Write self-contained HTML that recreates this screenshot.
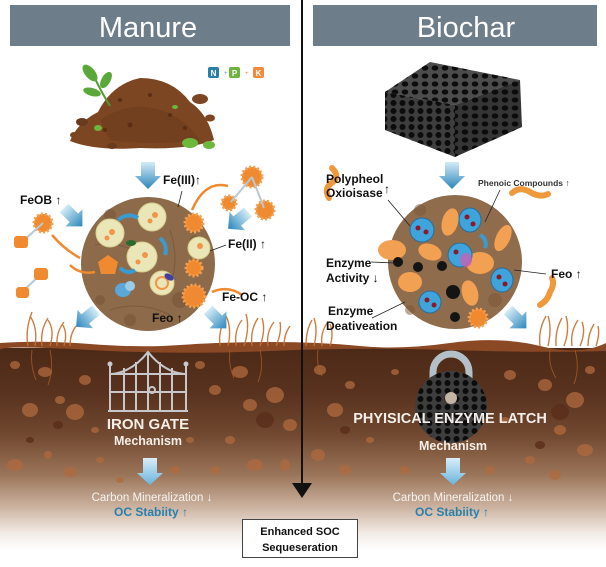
<!DOCTYPE html>
<html><head><meta charset="utf-8"><style>
html,body{margin:0;padding:0;background:#fff;}
svg{display:block;}
text{font-family:"Liberation Sans",sans-serif;}
</style></head><body>
<svg width="606" height="567" viewBox="0 0 606 567" xmlns="http://www.w3.org/2000/svg">
<defs>
<linearGradient id="soil" x1="0" y1="340" x2="0" y2="550" gradientUnits="userSpaceOnUse">
<stop offset="0" stop-color="#4a2816"/>
<stop offset="0.25" stop-color="#58321e"/>
<stop offset="0.45" stop-color="#714830"/>
<stop offset="0.64" stop-color="#9a7458"/>
<stop offset="0.8" stop-color="#cdb4a2"/>
<stop offset="0.92" stop-color="#f2ebe6"/>
<stop offset="1" stop-color="#ffffff"/>
</linearGradient>
<linearGradient id="blue" x1="0" y1="0" x2="0" y2="1">
<stop offset="0" stop-color="#d4ecf6"/>
<stop offset="1" stop-color="#2a86bc"/>
</linearGradient>
<linearGradient id="blueL" x1="0" y1="0" x2="0" y2="1">
<stop offset="0" stop-color="#d8eef8"/>
<stop offset="1" stop-color="#6ab4dc"/>
</linearGradient>
<pattern id="holes" width="10" height="8" patternUnits="userSpaceOnUse">
<ellipse cx="5" cy="4" rx="3.3" ry="2.6" fill="#0c0c0c"/>
</pattern>
<pattern id="holes2" width="9" height="8" patternUnits="userSpaceOnUse" patternTransform="translate(2,3)">
<circle cx="4.5" cy="4" r="3" fill="#0c0c0c"/>
</pattern>
</defs>

<!-- headers -->
<rect x="10" y="5" width="280" height="41" fill="#6d7d89"/>
<text x="148" y="37" font-size="29" fill="#fff" text-anchor="middle">Manure</text>
<rect x="313" y="5" width="284" height="41" fill="#6d7d89"/>
<text x="466" y="37" font-size="29" fill="#fff" text-anchor="middle">Biochar</text>

<!-- soil -->
<rect x="0" y="348" width="606" height="219" fill="url(#soil)"/>
<path d="M0,343 Q40,340 90,344 T180,345 T270,342 T360,346 T450,343 T540,346 T606,343 L606,351 Q540,353 450,350 T270,351 T90,350 T0,350Z" fill="#8a4824"/>

<!-- rocks -->
<g fill="#b06a3e" opacity="0.75">
<ellipse cx="15" cy="365" rx="5" ry="4"/><ellipse cx="45" cy="372" rx="7" ry="5"/><ellipse cx="30" cy="410" rx="8" ry="7"/>
<ellipse cx="60" cy="400" rx="5" ry="4"/><ellipse cx="85" cy="380" rx="6" ry="5"/><ellipse cx="75" cy="412" rx="9" ry="8"/>
<ellipse cx="95" cy="430" rx="4" ry="3"/><ellipse cx="15" cy="465" rx="8" ry="6"/><ellipse cx="48" cy="455" rx="4" ry="4"/>
<ellipse cx="70" cy="472" rx="7" ry="5"/><ellipse cx="100" cy="460" rx="4" ry="3"/><ellipse cx="200" cy="365" rx="5" ry="4"/>
<ellipse cx="215" cy="390" rx="6" ry="5"/><ellipse cx="240" cy="372" rx="8" ry="6"/><ellipse cx="250" cy="405" rx="7" ry="6"/>
<ellipse cx="275" cy="395" rx="9" ry="8"/><ellipse cx="290" cy="425" rx="7" ry="6"/><ellipse cx="230" cy="440" rx="5" ry="4"/>
<ellipse cx="255" cy="465" rx="8" ry="6"/><ellipse cx="285" cy="465" rx="5" ry="6"/><ellipse cx="215" cy="470" rx="5" ry="4"/>
<ellipse cx="190" cy="440" rx="4" ry="3"/><ellipse cx="175" cy="470" rx="5" ry="4"/><ellipse cx="320" cy="370" rx="6" ry="5"/>
<ellipse cx="335" cy="410" rx="8" ry="7"/><ellipse cx="350" cy="385" rx="5" ry="4"/><ellipse cx="318" cy="455" rx="7" ry="6"/>
<ellipse cx="345" cy="470" rx="6" ry="5"/><ellipse cx="370" cy="440" rx="4" ry="3"/><ellipse cx="395" cy="372" rx="4" ry="3"/>
<ellipse cx="510" cy="375" rx="6" ry="5"/><ellipse cx="545" cy="385" rx="7" ry="6"/><ellipse cx="575" cy="400" rx="9" ry="8"/>
<ellipse cx="590" cy="370" rx="5" ry="4"/><ellipse cx="560" cy="430" rx="6" ry="5"/><ellipse cx="585" cy="450" rx="8" ry="6"/>
<ellipse cx="530" cy="460" rx="5" ry="4"/><ellipse cx="555" cy="475" rx="6" ry="5"/><ellipse cx="505" cy="420" rx="4" ry="3"/>
<ellipse cx="120" cy="480" rx="4" ry="3"/><ellipse cx="405" cy="470" rx="5" ry="4"/><ellipse cx="490" cy="470" rx="5" ry="4"/>
</g>
<g fill="#5a2e1a" opacity="0.8">
<ellipse cx="58" cy="425" rx="5" ry="4"/><ellipse cx="265" cy="420" rx="9" ry="8"/><ellipse cx="248" cy="380" rx="4" ry="3"/>
<ellipse cx="560" cy="412" rx="9" ry="8"/><ellipse cx="345" cy="430" rx="5" ry="4"/><ellipse cx="30" cy="440" rx="4" ry="3"/>
<ellipse cx="540" cy="445" rx="5" ry="4"/>
</g>

<!-- grass -->
<g stroke="#c8702c" stroke-width="1.4" fill="none" opacity="0.9">
<path d="M28,346 Q25,330 32,312"/><path d="M35,346 Q38,328 30,316"/><path d="M42,346 Q40,330 48,318"/><path d="M50,346 Q55,330 48,320"/>
<path d="M57,346 Q56,332 64,322"/><path d="M64,346 Q68,332 62,324"/><path d="M70,346 Q70,334 76,326"/>
<path d="M220,346 Q218,330 226,318"/><path d="M228,346 Q232,328 226,316"/><path d="M236,346 Q234,330 242,320"/><path d="M244,346 Q250,328 246,314"/>
<path d="M252,346 Q250,330 258,318"/><path d="M260,346 Q266,330 262,318"/><path d="M268,346 Q266,332 274,322"/><path d="M276,346 Q282,332 280,322"/><path d="M284,346 Q284,334 290,326"/>
<path d="M306,346 Q306,330 312,320"/><path d="M314,346 Q318,330 314,318"/><path d="M322,346 Q320,332 328,322"/><path d="M330,346 Q334,334 330,324"/>
<path d="M540,346 Q538,330 546,316"/><path d="M548,346 Q552,328 548,316"/><path d="M556,346 Q555,330 562,318"/><path d="M564,346 Q570,330 566,316"/>
<path d="M572,346 Q570,332 578,320"/><path d="M580,346 Q586,332 582,322"/><path d="M588,346 Q588,334 594,324"/><path d="M596,346 Q600,334 598,326"/>
</g>
<g stroke="#b0622a" stroke-width="1" fill="none" opacity="0.7">
<path d="M32,350 Q30,365 36,380"/><path d="M50,350 Q54,368 48,385"/><path d="M230,350 Q228,365 234,378"/><path d="M260,350 Q264,368 258,382"/>
<path d="M550,350 Q548,365 556,378"/><path d="M575,350 Q580,368 574,384"/><path d="M318,350 Q316,365 322,376"/>
</g>

<!-- divider -->
<line x1="302" y1="0" x2="302" y2="486" stroke="#111" stroke-width="2"/>
<polygon points="292,483 312,483 302,498" fill="#111"/>

<!-- manure pile -->
<path d="M70,141 Q78,122 98,112 Q112,84 140,78 Q172,78 190,102 Q208,114 214,140 Q190,150 140,148 Q95,151 70,141Z" fill="#7d4622"/>
<path d="M100,120 Q130,100 160,110 Q185,118 200,140 Q150,146 110,140Z" fill="#6a3a1c" opacity="0.5"/>
<g fill="#5a2e14"><circle cx="120" cy="100" r="2"/><circle cx="150" cy="95" r="2"/><circle cx="170" cy="115" r="2"/><circle cx="130" cy="125" r="2.5"/><circle cx="185" cy="128" r="2"/><circle cx="105" cy="130" r="2"/></g>
<ellipse cx="200" cy="99" rx="8" ry="5" fill="#7d4622"/>
<ellipse cx="210" cy="118" rx="5" ry="3.5" fill="#7d4622"/>
<ellipse cx="82" cy="122" rx="6" ry="4" fill="#6a3a1c"/>
<ellipse cx="74" cy="135" rx="4" ry="3" fill="#7d4622"/>
<ellipse cx="112" cy="146" rx="5" ry="3" fill="#6a3a1c"/>
<ellipse cx="190" cy="143" rx="8" ry="5" fill="#6bb83c"/>
<ellipse cx="209" cy="145" rx="6" ry="4" fill="#6bb83c"/>
<ellipse cx="98" cy="128" rx="4" ry="3" fill="#6bb83c"/>
<ellipse cx="175" cy="107" rx="3" ry="2" fill="#6bb83c"/>
<path d="M110,106 Q100,90 92,72" stroke="#4f9a32" stroke-width="2" fill="none"/>
<ellipse cx="90" cy="73" rx="10" ry="5" fill="#5aa83a" transform="rotate(50 90 73)"/>
<ellipse cx="106" cy="80" rx="9" ry="4.5" fill="#5aa83a" transform="rotate(-60 106 80)"/>
<ellipse cx="92" cy="92" rx="9" ry="4" fill="#5aa83a" transform="rotate(15 92 92)"/>
<!-- NPK -->
<rect x="208" y="67" width="11" height="11" rx="2" fill="#2a7fa6"/><text x="213.5" y="76" font-size="8" font-weight="bold" fill="#fff" text-anchor="middle">N</text>
<text x="224" y="75" font-size="6" fill="#6a9ab0">+</text>
<rect x="229" y="67" width="11" height="11" rx="2" fill="#6db33f"/><text x="234.5" y="76" font-size="8" font-weight="bold" fill="#fff" text-anchor="middle">P</text>
<text x="245" y="75" font-size="6" fill="#e88a3c">+</text>
<rect x="253" y="67" width="11" height="11" rx="2" fill="#f08a3c"/><text x="258.5" y="76" font-size="8" font-weight="bold" fill="#fff" text-anchor="middle">K</text>

<!-- biochar cube -->
<polygon points="385,92 430,62 520,80 455,105" fill="#4c4c4c"/>
<polygon points="385,92 430,62 520,80 455,105" fill="url(#holes)"/>
<polygon points="385,92 455,105 455,157 385,130" fill="#3e3e3e"/>
<polygon points="385,92 455,105 455,157 385,130" fill="url(#holes2)"/>
<polygon points="455,105 520,80 522,127 455,157" fill="#353535"/>
<polygon points="455,105 520,80 522,127 455,157" fill="url(#holes)"/>

<!-- blue arrows -->
<g transform="translate(148,162)"><polygon points="-7,0 7,0 7,14 13,14 0,27 -13,14 -7,14" fill="url(#blue)"/></g>
<g transform="translate(452,162)"><polygon points="-7,0 7,0 7,14 13,14 0,27 -13,14 -7,14" fill="url(#blue)"/></g>
<g transform="translate(64,208) rotate(-45)"><polygon points="-6,0 6,0 6,14 12,14 0,26 -12,14 -6,14" fill="url(#blue)"/></g>
<g transform="translate(248,212) rotate(50)"><polygon points="-6,0 6,0 6,14 12,14 0,26 -12,14 -6,14" fill="url(#blue)"/></g>
<g transform="translate(96,310) rotate(50)"><polygon points="-6,0 6,0 6,14 12,14 0,26 -12,14 -6,14" fill="url(#blue)"/></g>
<g transform="translate(208,310) rotate(-45)"><polygon points="-6,0 6,0 6,14 12,14 0,26 -12,14 -6,14" fill="url(#blue)"/></g>
<g transform="translate(508,310) rotate(-45)"><polygon points="-6,0 6,0 6,14 12,14 0,26 -12,14 -6,14" fill="url(#blue)"/></g>

<!-- left ball -->
<circle cx="148" cy="264" r="67" fill="#8d6a4a"/>
<g fill="#7a5638" opacity="0.6"><circle cx="110" cy="215" r="6"/><circle cx="180" cy="300" r="8"/><circle cx="100" cy="300" r="5"/><circle cx="195" cy="240" r="5"/><circle cx="130" cy="320" r="6"/></g>
<g stroke="#6e4e34" stroke-width="1" fill="none" opacity="0.6"><path d="M95,245 Q120,240 140,255"/><path d="M170,230 Q180,260 170,285"/><path d="M110,310 Q140,300 170,315"/></g>
<g fill="#ebe6b8" stroke="#d6cf8e" stroke-width="1">
<circle cx="110" cy="233" r="14"/><circle cx="152" cy="217" r="14"/><circle cx="142" cy="257" r="15"/><circle cx="162" cy="283" r="12"/><circle cx="199" cy="248" r="11"/>
</g>
<g fill="#f0954a"><circle cx="112" cy="232" r="3"/><circle cx="107" cy="238" r="2.5"/><circle cx="155" cy="215" r="3"/><circle cx="150" cy="221" r="2.5"/><circle cx="145" cy="255" r="3"/><circle cx="138" cy="262" r="2.5"/><circle cx="200" cy="246" r="3"/></g>
<circle cx="162" cy="283" r="6" fill="none" stroke="#f0954a" stroke-width="2"/>
<g fill="#f08a30" stroke="#f4a050" stroke-width="3" stroke-dasharray="2 2">
<circle cx="194" cy="223" r="9"/><circle cx="194" cy="268" r="8"/><circle cx="194" cy="296" r="11"/>
</g>
<polygon points="98,262 108,255 118,262 115,274 101,274" fill="#f08a30"/>
<ellipse cx="123" cy="290" rx="8" ry="7" fill="#5aa8d8"/><ellipse cx="130" cy="286" rx="5" ry="5" fill="#9ccbe8"/>
<ellipse cx="131" cy="243" rx="5" ry="3" fill="#2a6a2a"/>
<ellipse cx="169" cy="277" rx="5" ry="3" fill="#4040a0" transform="rotate(30 169 277)"/>
<g stroke="#3b9ad0" stroke-width="4" fill="none">
<path d="M118,220 Q128,212 138,218"/><path d="M160,238 Q168,245 165,255"/><path d="M120,268 Q128,275 135,270"/>
</g>
<!-- orange externals left -->
<g fill="#f08a30" stroke="#f4a050" stroke-width="3" stroke-dasharray="2 2">
<circle cx="43" cy="223" r="9"/><circle cx="252" cy="177" r="10"/><circle cx="229" cy="203" r="7"/><circle cx="265" cy="210" r="9"/>
</g>
<g stroke="#b8c8d4" stroke-width="2"><line x1="43" y1="223" x2="22" y2="242"/><line x1="252" y1="177" x2="231" y2="202"/><line x1="252" y1="177" x2="264" y2="208"/><line x1="40" y1="275" x2="22" y2="292"/></g>
<rect x="14" y="236" width="14" height="12" rx="3" fill="#f08a30"/>
<rect x="34" y="268" width="14" height="12" rx="3" fill="#f08a30"/>
<rect x="16" y="287" width="13" height="11" rx="3" fill="#f08a30"/>
<g stroke="#f08a30" stroke-width="2.5" fill="none">
<path d="M52,235 Q65,250 80,258"/><path d="M70,265 Q80,275 95,272"/><path d="M228,186 Q205,180 192,210"/><path d="M242,295 Q228,285 212,292"/>
</g>

<!-- left labels -->
<g font-size="12" font-weight="bold" fill="#111">
<text x="163" y="184">Fe(III)↑</text>
<text x="20" y="204">FeOB ↑</text>
<text x="228" y="248">Fe(II) ↑</text>
<text x="222" y="301">Fe-OC ↑</text>
<text x="152" y="322">Feo ↑</text>
</g>
<g stroke="#222" stroke-width="0.8"><line x1="182" y1="191" x2="178" y2="207"/><line x1="226" y1="245" x2="210" y2="251"/></g>

<!-- right ball -->
<circle cx="455" cy="262" r="67" fill="#8f6c4c"/>
<g fill="#7a5638" opacity="0.5"><circle cx="420" cy="210" r="6"/><circle cx="495" cy="300" r="7"/><circle cx="410" cy="310" r="5"/></g>
<g fill="#f2a052">
<ellipse cx="392" cy="250" rx="14" ry="10"/><ellipse cx="450" cy="222" rx="8" ry="14" transform="rotate(15 450 222)"/>
<ellipse cx="430" cy="252" rx="12" ry="8" transform="rotate(20 430 252)"/><ellipse cx="503" cy="238" rx="7" ry="14" transform="rotate(25 503 238)"/>
<ellipse cx="480" cy="263" rx="14" ry="11"/><ellipse cx="410" cy="282" rx="12" ry="10"/><ellipse cx="470" cy="293" rx="8" ry="13" transform="rotate(-15 470 293)"/>
</g>
<g fill="#3fa3dc" stroke="#2a6e9a" stroke-width="1">
<ellipse cx="422" cy="230" rx="12" ry="12"/><ellipse cx="470" cy="220" rx="11" ry="12"/><ellipse cx="460" cy="255" rx="12" ry="12"/><ellipse cx="502" cy="280" rx="11" ry="12"/><ellipse cx="430" cy="302" rx="11" ry="11"/>
</g>
<ellipse cx="466" cy="260" rx="6" ry="7" fill="#c860b8" opacity="0.8"/>
<g fill="#8a1a2a"><circle cx="418" cy="228" r="2.5"/><circle cx="426" cy="232" r="2.5"/><circle cx="467" cy="217" r="2.5"/><circle cx="473" cy="224" r="2.5"/><circle cx="456" cy="252" r="2.5"/><circle cx="499" cy="277" r="2.5"/><circle cx="505" cy="284" r="2.5"/><circle cx="427" cy="300" r="2.5"/><circle cx="434" cy="305" r="2.5"/></g>
<g fill="#141414"><circle cx="398" cy="262" r="5"/><circle cx="418" cy="267" r="5"/><circle cx="442" cy="266" r="5"/><circle cx="453" cy="292" r="7"/><circle cx="455" cy="317" r="5"/></g>
<circle cx="478" cy="318" r="9" fill="#f08a30" stroke="#f4a050" stroke-width="3" stroke-dasharray="2 2"/>
<path d="M480,235 Q488,240 485,248" stroke="#3b9ad0" stroke-width="4" fill="none"/>
<!-- worms -->
<g stroke="#f0983c" stroke-width="6" stroke-linecap="round" fill="none">
<path d="M329,198 Q323,188 333,182 Q340,176 332,168"/><path d="M512,193 Q520,186 530,192 Q540,198 548,194"/><path d="M540,305 Q548,300 550,292 Q555,284 552,278"/>
</g>

<!-- right labels -->
<g font-size="12" font-weight="bold" fill="#111">
<text x="326" y="183">Polypheol</text>
<text x="326" y="197">Oxioisase</text>
<text x="384" y="193">↑</text>
<text x="326" y="267">Enzyme</text>
<text x="326" y="282">Activity ↓</text>
<text x="328" y="315">Enzyme</text>
<text x="326" y="330">Deativeation</text>
<text x="551" y="278">Feo ↑</text>
</g>
<text x="478" y="186" font-size="8.5" font-weight="bold" fill="#333">Phenoic Compounds ↑</text>
<g stroke="#222" stroke-width="0.8">
<line x1="388" y1="200" x2="410" y2="226"/><line x1="500" y1="190" x2="485" y2="222"/>
<line x1="371" y1="262" x2="395" y2="263"/><line x1="372" y1="318" x2="405" y2="302"/><line x1="546" y1="274" x2="514" y2="270"/>
</g>

<!-- iron gate -->
<g stroke="#c8c8cc" stroke-width="2" fill="none">
<path d="M112,374 Q132,372 148,352 Q164,372 184,374"/>
<line x1="110" y1="366" x2="110" y2="412"/><line x1="186" y1="366" x2="186" y2="412"/>
<line x1="110" y1="374" x2="186" y2="374"/><line x1="110" y1="392" x2="186" y2="392"/><line x1="108" y1="411" x2="188" y2="411"/>
<line x1="124" y1="368" x2="124" y2="411"/><line x1="136" y1="362" x2="136" y2="411"/><line x1="148" y1="352" x2="148" y2="411"/><line x1="160" y1="362" x2="160" y2="411"/><line x1="172" y1="368" x2="172" y2="411"/>
<circle cx="152" cy="390" r="3"/>
</g>
<circle cx="110" cy="364" r="2.5" fill="#c8c8cc"/><circle cx="186" cy="364" r="2.5" fill="#c8c8cc"/>
<text x="148" y="429" font-size="15" font-weight="bold" fill="#f4eee8" text-anchor="middle">IRON GATE</text>
<text x="148" y="445" font-size="12.5" font-weight="bold" fill="#f4eee8" text-anchor="middle">Mechanism</text>

<!-- lock -->
<path d="M433,396 L433,372 A18,18 0 0 1 469,372 L469,388" stroke="#b4c0c8" stroke-width="7" fill="none"/>
<circle cx="451" cy="407" r="36" fill="#3e3e3e"/>
<circle cx="451" cy="407" r="36" fill="url(#holes2)"/>
<circle cx="451" cy="398" r="6" fill="#c4b4a4"/>
<text x="450" y="423" font-size="14.5" font-weight="bold" fill="#f4eee8" text-anchor="middle">PHYISICAL ENZYME LATCH</text>
<text x="453" y="450" font-size="12.5" font-weight="bold" fill="#f4eee8" text-anchor="middle">Mechanism</text>

<!-- soil arrows -->
<g transform="translate(150,458)"><polygon points="-7,0 7,0 7,15 13,15 0,27 -13,15 -7,15" fill="url(#blueL)"/></g>
<g transform="translate(453,458)"><polygon points="-7,0 7,0 7,15 13,15 0,27 -13,15 -7,15" fill="url(#blueL)"/></g>

<text x="152" y="501" font-size="11.5" fill="#f6f2ee" text-anchor="middle">Carbon Mineralization ↓</text>
<text x="151" y="516" font-size="12" font-weight="bold" fill="#2a80aa" text-anchor="middle">OC Stabiity ↑</text>
<text x="453" y="501" font-size="11.5" fill="#f6f2ee" text-anchor="middle">Carbon Mineralization ↓</text>
<text x="452" y="516" font-size="12" font-weight="bold" fill="#2a80aa" text-anchor="middle">OC Stabiity ↑</text>

<!-- bottom box -->
<rect x="242.5" y="519.5" width="115" height="38" fill="#fff" stroke="#444" stroke-width="1"/>
<text x="300" y="535" font-size="11" font-weight="bold" fill="#111" text-anchor="middle">Enhanced SOC</text>
<text x="300" y="551" font-size="11" font-weight="bold" fill="#111" text-anchor="middle">Sequeseration</text>
</svg>
</body></html>
